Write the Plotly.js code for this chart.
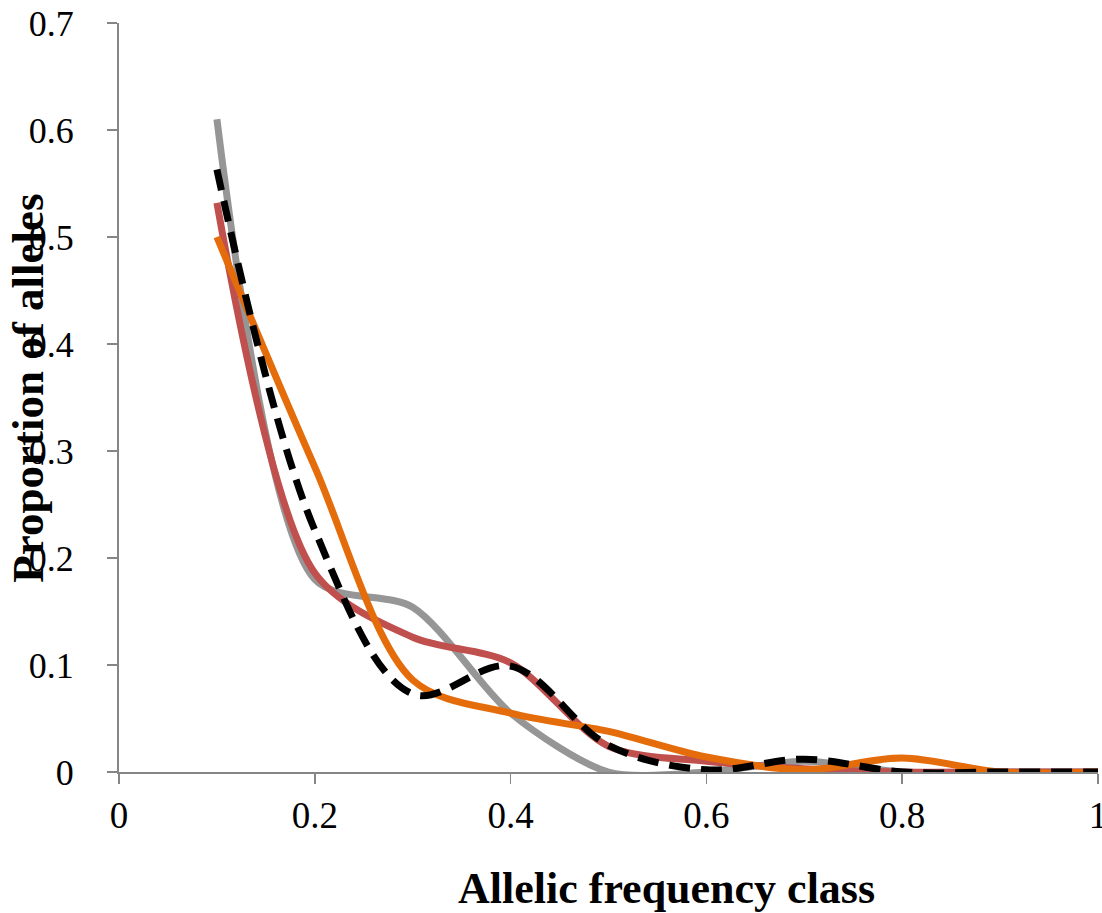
<!DOCTYPE html>
<html>
<head>
<meta charset="utf-8">
<script src="https://cdn.plot.ly/plotly-3.0.1.min.js"></script>
<style>html,body{margin:0;padding:0;background:#fff;}#chart{width:1102px;height:913px;}</style>
</head>
<body>
<div id="chart"></div>
<script>
const freqClass = [0.1, 0.2, 0.3, 0.4, 0.5, 0.6, 0.7, 0.8, 0.9, 1.0];
const seriesGray   = [0.610, 0.180, 0.154, 0.055, 0.000, 0.000, 0.010, 0.000, 0.000, 0.000];
const seriesRed    = [0.532, 0.186, 0.126, 0.102, 0.024, 0.010, 0.003, 0.000, 0.000, 0.000];
const seriesOrange = [0.500, 0.285, 0.086, 0.055, 0.038, 0.014, 0.002, 0.013, 0.000, 0.000];
const seriesBlack  = [0.563, 0.226, 0.073, 0.099, 0.025, 0.002, 0.012, 0.000, 0.000, 0.000];
const xTicks = [0, 0.2, 0.4, 0.6, 0.8, 1];
const xTickText = ['0', '0.2', '0.4', '0.6', '0.8', '1'];
const yTicks = [0, 0.1, 0.2, 0.3, 0.4, 0.5, 0.6, 0.7];
const yTickText = ['0', '0.1', '0.2', '0.3', '0.4', '0.5', '0.6', '0.7'];

function tr(y, color, smooth, dash) {
  return {x: freqClass, y: y, mode: 'lines', type: 'scatter',
    line: {color: color, width: 7, shape: 'spline', smoothing: smooth, dash: dash || 'solid'},
    hoverinfo: 'skip', showlegend: false};
}
const data = [
  tr(seriesGray, '#969696', 0.8),
  tr(seriesRed, '#C0504D', 0.85),
  tr(seriesOrange, '#E46C0A', 0.9),
  tr(seriesBlack, '#000000', 1.0, '21px,11px')
];
const fontFam = '"Liberation Serif", "Times New Roman", serif';
const layout = {
  width: 1102, height: 913,
  margin: {l: 119, r: 4, t: 23, b: 141},
  paper_bgcolor: '#ffffff', plot_bgcolor: '#ffffff',
  font: {family: fontFam, color: '#000'},
  xaxis: {range: [0, 1], tickvals: xTicks, ticktext: xTickText, showgrid: false, zeroline: false,
    showline: true, linecolor: '#868686', linewidth: 2, ticks: 'outside', ticklen: 10, tickwidth: 1.5, tickcolor: '#868686',
    ticklabeloverflow: 'allow',
    tickfont: {family: fontFam, size: 37, color: '#000'}, fixedrange: true},
  yaxis: {range: [0, 0.7], tickvals: yTicks, ticktext: yTickText, showgrid: false, zeroline: false,
    showline: true, linecolor: '#868686', linewidth: 2, ticks: 'outside', ticklen: 10, tickwidth: 1.5, tickcolor: '#868686',
    ticklabelstandoff: 26, ticklabeloverflow: 'allow',
    tickfont: {family: fontFam, size: 36, color: '#000'}, fixedrange: true},
  annotations: [
    {text: '<b>Allelic frequency class</b>', xref: 'paper', yref: 'paper', x: 0.559, y: -0.155,
      xanchor: 'center', yanchor: 'middle', showarrow: false, font: {family: fontFam, size: 44, color: '#000'}},
    {text: '<b>Proportion of alleles</b>', xref: 'paper', yref: 'paper', x: -0.093, y: 0.513, textangle: -90,
      xanchor: 'center', yanchor: 'middle', showarrow: false, font: {family: fontFam, size: 45, color: '#000'}}
  ]
};
Plotly.newPlot('chart', data, layout, {displayModeBar: false, staticPlot: true});
</script>
</body>
</html>
